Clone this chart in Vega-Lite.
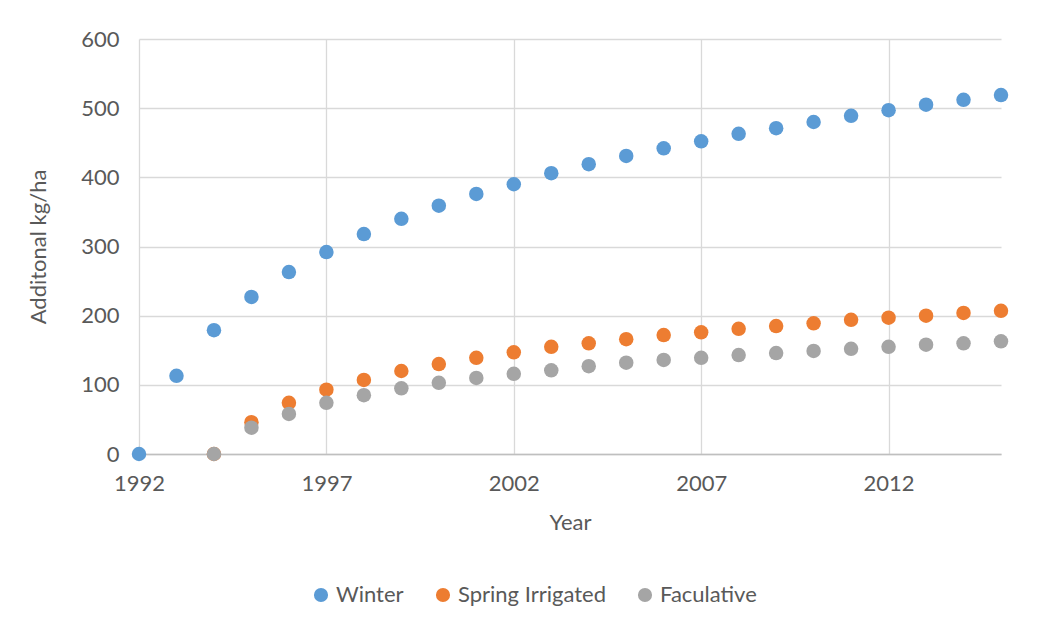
{
  "$schema": "https://vega.github.io/schema/vega-lite/v6.json",
  "width": 862,
  "height": 415,
  "autosize": {"type": "none"},
  "padding": {"left": 139, "top": 39, "right": 43, "bottom": 174},
  "background": "white",
  "config": {
    "font": "Lato",
    "view": {"stroke": null},
    "axis": {"labelFont": "Lato", "titleFont": "Lato", "labelColor": "#595959", "titleColor": "#595959", "titleFontWeight": "normal", "labelFontSize": 22, "titleFontSize": 22, "gridColor": "#d9d9d9", "gridWidth": 1.3, "ticks": false}
  },
  "data": {"values": [
    {"year": 1992, "series": "Winter", "value": 0},
    {"year": 1993, "series": "Winter", "value": 113},
    {"year": 1994, "series": "Winter", "value": 179},
    {"year": 1995, "series": "Winter", "value": 227},
    {"year": 1996, "series": "Winter", "value": 263},
    {"year": 1997, "series": "Winter", "value": 292},
    {"year": 1998, "series": "Winter", "value": 318},
    {"year": 1999, "series": "Winter", "value": 340},
    {"year": 2000, "series": "Winter", "value": 359},
    {"year": 2001, "series": "Winter", "value": 376},
    {"year": 2002, "series": "Winter", "value": 390},
    {"year": 2003, "series": "Winter", "value": 406},
    {"year": 2004, "series": "Winter", "value": 419},
    {"year": 2005, "series": "Winter", "value": 431},
    {"year": 2006, "series": "Winter", "value": 442},
    {"year": 2007, "series": "Winter", "value": 452},
    {"year": 2008, "series": "Winter", "value": 463},
    {"year": 2009, "series": "Winter", "value": 471},
    {"year": 2010, "series": "Winter", "value": 480},
    {"year": 2011, "series": "Winter", "value": 489},
    {"year": 2012, "series": "Winter", "value": 497},
    {"year": 2013, "series": "Winter", "value": 505},
    {"year": 2014, "series": "Winter", "value": 512},
    {"year": 2015, "series": "Winter", "value": 519},
    {"year": 1994, "series": "Spring Irrigated", "value": 0},
    {"year": 1995, "series": "Spring Irrigated", "value": 46},
    {"year": 1996, "series": "Spring Irrigated", "value": 74},
    {"year": 1997, "series": "Spring Irrigated", "value": 93},
    {"year": 1998, "series": "Spring Irrigated", "value": 107},
    {"year": 1999, "series": "Spring Irrigated", "value": 120},
    {"year": 2000, "series": "Spring Irrigated", "value": 130},
    {"year": 2001, "series": "Spring Irrigated", "value": 139},
    {"year": 2002, "series": "Spring Irrigated", "value": 147},
    {"year": 2003, "series": "Spring Irrigated", "value": 155},
    {"year": 2004, "series": "Spring Irrigated", "value": 160},
    {"year": 2005, "series": "Spring Irrigated", "value": 166},
    {"year": 2006, "series": "Spring Irrigated", "value": 172},
    {"year": 2007, "series": "Spring Irrigated", "value": 176},
    {"year": 2008, "series": "Spring Irrigated", "value": 181},
    {"year": 2009, "series": "Spring Irrigated", "value": 185},
    {"year": 2010, "series": "Spring Irrigated", "value": 189},
    {"year": 2011, "series": "Spring Irrigated", "value": 194},
    {"year": 2012, "series": "Spring Irrigated", "value": 197},
    {"year": 2013, "series": "Spring Irrigated", "value": 200},
    {"year": 2014, "series": "Spring Irrigated", "value": 204},
    {"year": 2015, "series": "Spring Irrigated", "value": 207},
    {"year": 1994, "series": "Faculative", "value": 0},
    {"year": 1995, "series": "Faculative", "value": 38},
    {"year": 1996, "series": "Faculative", "value": 58},
    {"year": 1997, "series": "Faculative", "value": 74},
    {"year": 1998, "series": "Faculative", "value": 85},
    {"year": 1999, "series": "Faculative", "value": 95},
    {"year": 2000, "series": "Faculative", "value": 103},
    {"year": 2001, "series": "Faculative", "value": 110},
    {"year": 2002, "series": "Faculative", "value": 116},
    {"year": 2003, "series": "Faculative", "value": 121},
    {"year": 2004, "series": "Faculative", "value": 127},
    {"year": 2005, "series": "Faculative", "value": 132},
    {"year": 2006, "series": "Faculative", "value": 136},
    {"year": 2007, "series": "Faculative", "value": 139},
    {"year": 2008, "series": "Faculative", "value": 143},
    {"year": 2009, "series": "Faculative", "value": 146},
    {"year": 2010, "series": "Faculative", "value": 149},
    {"year": 2011, "series": "Faculative", "value": 152},
    {"year": 2012, "series": "Faculative", "value": 155},
    {"year": 2013, "series": "Faculative", "value": 158},
    {"year": 2014, "series": "Faculative", "value": 160},
    {"year": 2015, "series": "Faculative", "value": 163}
  ]},
  "mark": {"type": "circle", "size": 210, "opacity": 1},
  "encoding": {
    "x": {"field": "year", "type": "quantitative", "title": "Year",
      "scale": {"domain": [1992, 2015], "nice": false, "zero": false},
      "axis": {"values": [1992, 1997, 2002, 2007, 2012], "format": "d", "domain": true, "domainColor": "#bfbfbf", "domainWidth": 1.3, "labelFlush": false, "labelPadding": 19, "titlePadding": 18}},
    "y": {"field": "value", "type": "quantitative", "title": "Additonal kg/ha",
      "scale": {"domain": [0, 600], "nice": false},
      "axis": {"values": [0, 100, 200, 300, 400, 500, 600], "domain": false, "labelPadding": 20, "titlePadding": 30}},
    "color": {"field": "series", "type": "nominal",
      "scale": {"domain": ["Winter", "Spring Irrigated", "Faculative"], "range": ["#5b9bd5", "#ed7d31", "#a5a5a5"]},
      "legend": {"title": null, "orient": "none", "legendX": 171, "legendY": 545, "direction": "horizontal", "labelFontSize": 22, "labelColor": "#595959", "symbolType": "circle", "symbolSize": 200, "columnPadding": 28, "labelOffset": 4, "labelFont": "Lato"}},
    "order": {"field": "series", "sort": "descending"}
  }
}
